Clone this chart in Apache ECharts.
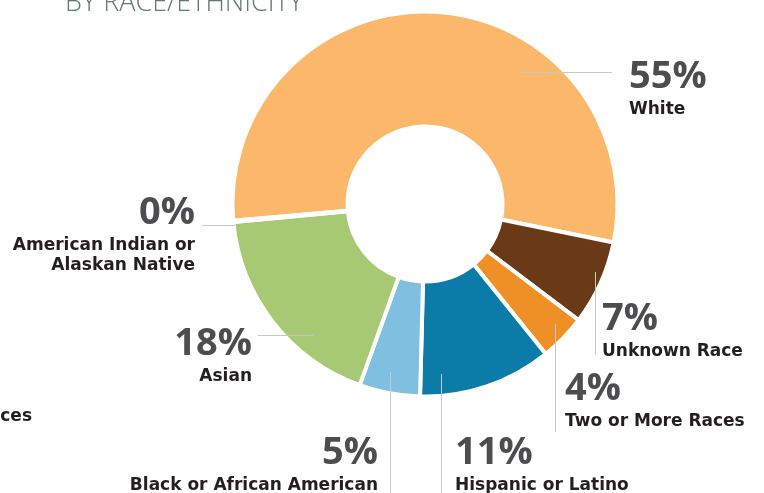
<!DOCTYPE html>
<html>
<head>
<meta charset="utf-8" />
<title>By Race/Ethnicity</title>
<script src="https://cdn.jsdelivr.net/npm/echarts@6/dist/echarts.min.js"></script>
<style>
    html, body { margin: 0; padding: 0; background: #fff; }
    #main { width: 764px; height: 493px; }
</style>
</head>
<body>
<div id="main"></div>
<script type="text/javascript">
    // slices, clockwise from the left side
    var groups = ['White', 'Unknown Race', 'Two or More Races', 'Hispanic or Latino',
                  'Black or African American', 'Asian', 'American Indian or\nAlaskan Native'];
    var shares = [54.6, 7.1, 3.9, 11.2, 5.1, 18.0, 0.1];
    var colors = ['#fbb86a', '#6a3a17', '#ee9025', '#0b7ba7', '#7fc0e1', '#a8c973', '#4f7a3a'];

    // label anchor (top of the text block) and its leader line
    var labelPos = [
        {x: 629, y: 55.5, align: 'left',  line: [[520, 72.5], [612, 72.5]]},
        {x: 602, y: 297.5, align: 'left', line: [[595.5, 272], [595.5, 355]]},
        {x: 565, y: 367.5, align: 'left', line: [[555.5, 324], [555.5, 432]]},
        {x: 455, y: 431.5, align: 'left', line: [[441.5, 374], [441.5, 493]]},
        {x: 378, y: 431.5, align: 'right', line: [[390.5, 372], [390.5, 493]]},
        {x: 252, y: 322.5, align: 'right', line: [[258, 335.5], [313, 335.5]]},
        {x: 195, y: 191.5, align: 'right', line: [[202, 225.5], [235, 225.5]]}
    ];

    var myChart = echarts.init(document.getElementById('main'));

    var option = {
        animation: false,
        title: {
            text: '{t|BY RACE/ETHNICITY}{s|*}',
            left: 65,
            top: -10,
            padding: 0,
            textStyle: {
                rich: {
                    t: {fontFamily: 'Open Sans', fontSize: 27, fontWeight: 300, color: '#5e7b70', lineHeight: 27},
                    s: {fontFamily: 'Open Sans', fontSize: 16, fontWeight: 300, color: '#5e7b70', verticalAlign: 'bottom', lineHeight: 27, padding: [0, 0, 14, 0]}
                }
            }
        },
        graphic: labelPos.map(function (p) {
            return {
                type: 'polyline',
                z: 100,
                silent: true,
                shape: {points: p.line},
                style: {stroke: '#c8c8c8', lineWidth: 1, fill: null}
            };
        }).concat([{
            // cut-off legend text from the neighbouring chart
            type: 'text',
            x: 32,
            y: 417,
            style: {
                text: 'Races',
                align: 'right',
                verticalAlign: 'middle',
                fontFamily: 'DejaVu Sans',
                fontSize: 17,
                fontWeight: 700,
                fill: '#231f20'
            }
        }]),
        series: [
            {
                type: 'pie',
                center: [425, 204],
                radius: [77.5, 192.5],
                startAngle: 185,
                clockwise: true,
                avoidLabelOverlap: false,
                silent: true,
                itemStyle: {borderColor: '#fff', borderWidth: 4},
                label: {
                    show: true,
                    position: 'outside',
                    formatter: function (p) {
                        var lines = p.name.split('\n');
                        return '{p|' + Math.round(p.value) + '%}\n{n|' + lines.join('}\n{n|') + '}';
                    },
                    rich: {
                        p: {fontFamily: 'Open Sans', fontSize: 38, fontWeight: 700, color: '#4d4d4f', lineHeight: 44},
                        n: {fontFamily: 'DejaVu Sans', fontSize: 17, fontWeight: 700, color: '#231f20', lineHeight: 20}
                    }
                },
                labelLine: {show: false},
                labelLayout: function (params) {
                    var p = labelPos[params.dataIndex];
                    return {x: p.x, y: p.y, align: p.align, verticalAlign: 'top'};
                },
                data: groups.map(function (g, i) {
                    return {name: g, value: shares[i], itemStyle: {color: colors[i]}};
                })
            }
        ]
    };
    myChart.setOption(option);
</script>
</body>
</html>
